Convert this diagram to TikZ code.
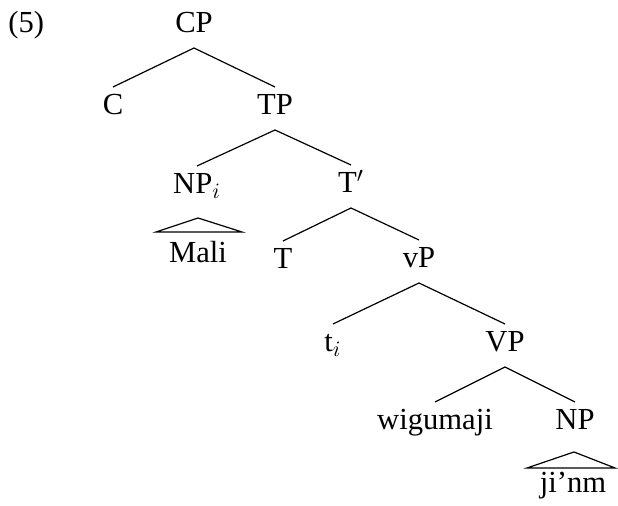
\documentclass[tikz,border=0pt]{standalone}
\usepackage{fontspec}
\setmainfont{Liberation Serif}
\usetikzlibrary{calc}
\begin{document}
\begin{tikzpicture}[x=0.5pt,y=-0.5pt,
  lab/.style={anchor=base,inner sep=0pt,font=\fontsize{15.3pt}{18pt}\selectfont,
              text height=13.8pt,text depth=7.3pt},
  edge/.style={line width=0.6pt},
  tri/.style={line width=0.6pt,line join=miter}]
\useasboundingbox (0,0) rectangle (618,506);
\node[anchor=base west,inner sep=0pt,font=\fontsize{15.3pt}{18pt}\selectfont] (num) at (8,33) {(5)};
\node[lab] (CP) at (194,33) {CP};
\node[lab] (C) at (113,115) {C};
\node[lab] (TP) at (275,115) {TP};
\node[lab] (NPi) at (197,194) {NP$_i$};
\node[lab] (Tbar) at (351,193) {T$'$};
\node[lab] (Mali) at (198,263) {Mali};
\node[lab] (T) at (283,269) {T};
\node[lab] (vP) at (419,268) {vP};
\node[lab] (ti) at (333,352) {t$_i$};
\node[lab] (VP) at (505,352) {VP};
\node[lab] (wig) at (435,430) {wigumaji};
\node[lab] (NP) at (575,430) {NP};
\node[lab] (jinm) at (573,493) {ji’nm};
\draw[edge] (C.north) -- (CP.south) -- (TP.north);
\draw[edge] (NPi.north) -- (TP.south) -- (Tbar.north);
\draw[edge] (T.north) -- (Tbar.south) -- (vP.north);
\draw[edge] (ti.north) -- (vP.south) -- (VP.north);
\draw[edge] (wig.north) -- (VP.south) -- (NP.north);
\draw[tri] ($(NPi.south)+(1,9)$) -- ($(Mali.north)+(-42,-3)$) -- ($(Mali.north)+(44,-3)$) -- cycle;
\draw[tri] ($(NP.south)+(-1,7)$) -- ($(jinm.north)+(-46,3)$) -- ($(jinm.north)+(42,3)$) -- cycle;
\end{tikzpicture}
\end{document}
